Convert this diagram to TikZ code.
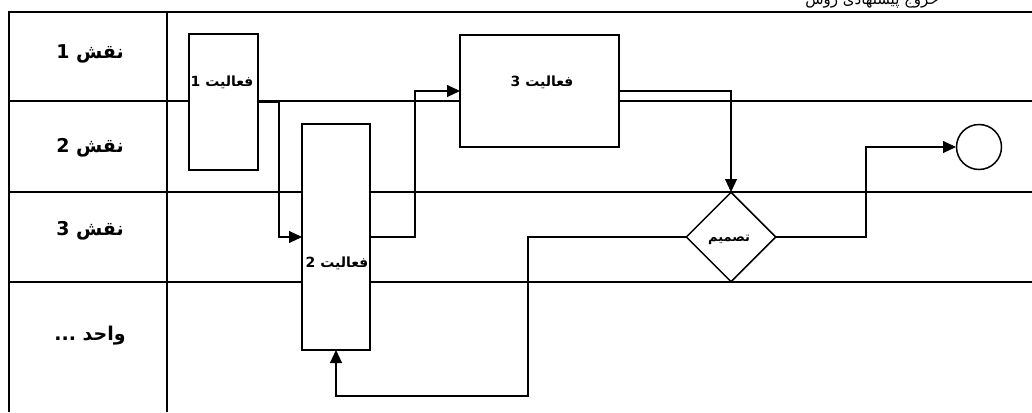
\documentclass[tikz,border=0pt]{standalone}
\usepackage{fontspec}
\usetikzlibrary{shapes.geometric,arrows.meta}
\newfontfamily\fa[Script=Arabic]{DejaVu Sans}
\TeXXeTstate=1
\tikzset{
  lane/.style={line width=1.6pt},
  boxnode/.style={draw,line width=1.5pt,fill=white,rectangle,inner sep=0pt},
  conn/.style={line width=1.1pt,-{Triangle[length=13pt,width=12pt]}},
  lanelabel/.style={font=\fa\bfseries\fontsize{19}{22}\selectfont,inner sep=0pt},
  acttext/.style={font=\fa\bfseries\fontsize{14}{16}\selectfont,inner sep=0pt},
}
\begin{document}
\begin{tikzpicture}[x=1pt,y=-1pt]
\useasboundingbox (0,0) rectangle (1032,412);
% title (cut off at the top edge, as in the reference)
\node[font=\fa\fontsize{15}{17}\selectfont,inner sep=0pt,anchor=base] (title) at (872,5) {\beginR خروج پیشنهادی روش\endR};
% lanes
\draw[lane] (9,412) -- (9,12) -- (1032,12);
\draw[lane] (167,12) -- (167,412);
\draw[lane] (9,101) -- (1032,101);
\draw[lane] (9,192) -- (1032,192);
\draw[lane] (9,282) -- (1032,282);
\node[lanelabel] (l1) at (90,54) {\beginR نقش 1\endR};
\node[lanelabel] (l2) at (90,148) {\beginR نقش 2\endR};
\node[lanelabel] (l3) at (90,231) {\beginR نقش 3\endR};
\node[lanelabel] (l4) at (90,336) {\beginR واحد ...\endR};
% coordinates
\coordinate (lp) at (528,396);
% connectors
\draw[conn] (258,102) -- ++(21,0) |- (302,237);
\draw[conn] (370,237) -- ++(45,0) |- (460,91);
\draw[conn] (619,91) -| (731,192);
\draw[conn] (776,237) -- ++(90,0) |- (956,147);
\draw[conn] (686,237) -| (lp) -| (336,350);
% boxes
\node[boxnode,minimum width=69pt,minimum height=136pt] (a1) at (223.5,102) {};
\node[boxnode,minimum width=68pt,minimum height=226pt] (a2) at (336,237) {};
\node[boxnode,minimum width=159pt,minimum height=112pt] (a3) at (539.5,91) {};
\node[draw,line width=1.5pt,fill=white,diamond,aspect=1,inner sep=0pt,minimum width=90pt,minimum height=90pt] (dec) at (731,237) {};
\node[draw,line width=1.5pt,fill=white,circle,inner sep=0pt,minimum size=45pt] (endc) at (979,147) {};
\node[acttext] (t1) at (222,82) {\beginR فعالیت 1\endR};
\node[acttext] (t2) at (337,263) {\beginR فعالیت 2\endR};
\node[acttext] (t3) at (542,82) {\beginR فعالیت 3\endR};
\node[font=\fa\bfseries\fontsize{13}{15}\selectfont,inner sep=0pt] (t4) at (729,240) {\beginR تصمیم\endR};
\end{tikzpicture}
\end{document}
